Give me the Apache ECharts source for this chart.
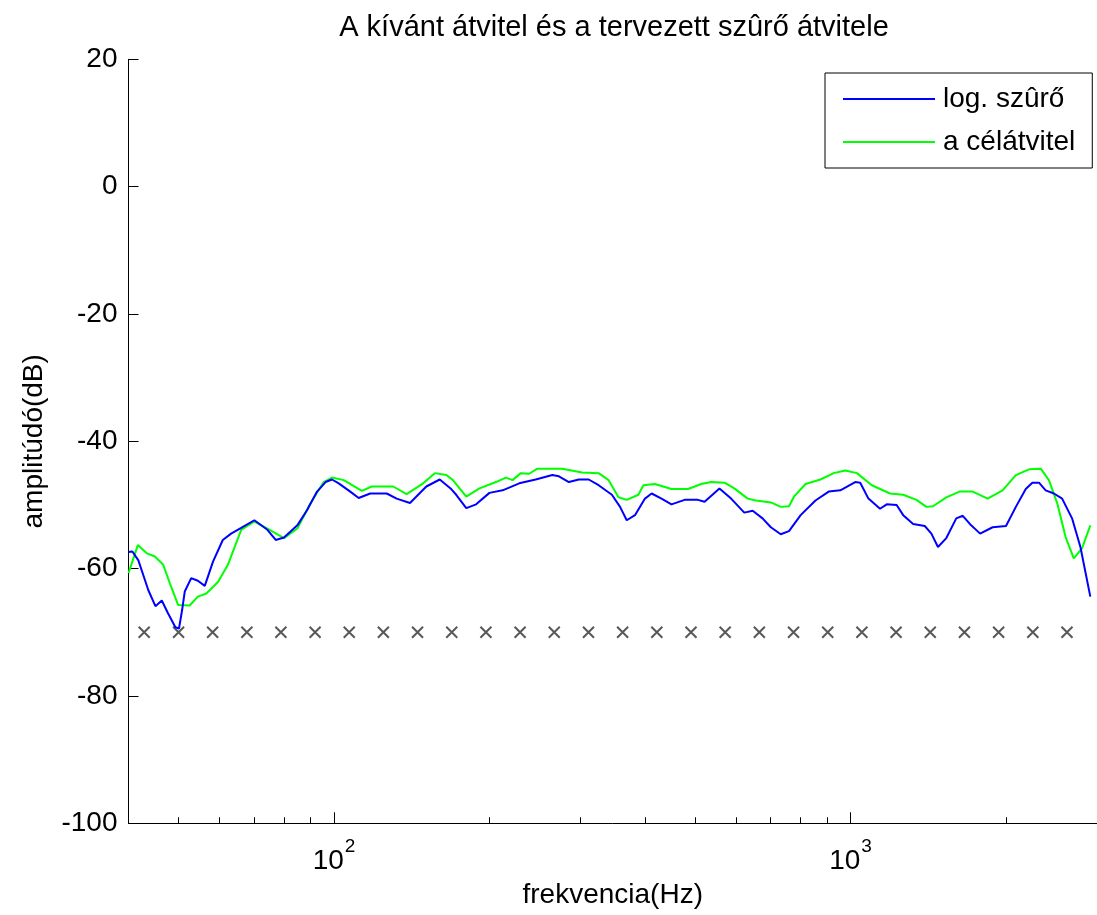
<!DOCTYPE html>
<html>
<head>
<meta charset="utf-8">
<script src="https://cdn.jsdelivr.net/npm/echarts@6/dist/echarts.min.js"></script>
<style>
  html, body { margin: 0; padding: 0; background: #fff; }
  #chart { width: 1097px; height: 915px; }
</style>
</head>
<body>
<div id="chart"></div>
<script>
// Texts
const chartTitle = 'A kívánt átvitel és a tervezett szûrő átvitele';
const xAxisTitle = 'frekvencia(Hz)';
const yAxisTitle = 'amplitúdó(dB)';
const seriesNames = ['log. szûrő', 'a célátvitel'];

// Axis ranges and ticks
const freqMin = 40;
const freqMax = 3000;
const dbMin = -100;
const dbMax = 20;
const dbStep = 20;
const xMajorTicks = [100, 1000];
const xMajorExponents = ['2', '3'];
const xMinorTicks = [50, 60, 70, 80, 90, 200, 300, 400, 500, 600, 700, 800, 900, 2000];

// Designed log filter response
const filterFreq = [40.0, 40.7, 41.8, 43.7, 45.1, 46.4, 47.7, 49.3, 50.1, 50.8, 51.4, 52.9, 54.5, 56.2, 58.3, 60.9,
  63.2, 66.1, 70.1, 74.3, 77.1, 80.0, 84.9, 88.7, 92.7, 96.3, 99.1, 102.1, 107.5, 111.6, 117.5, 126.5, 132.2,
  140.3, 150.9, 160.2, 168.6, 172.4, 180.3, 188.4, 199.9, 212.0, 228.3, 245.7, 264.6, 272.5, 284.9, 297.8,
  311.2, 325.3, 345.1, 357.9, 368.7, 382.5, 399.9, 412.0, 430.5, 450.1, 477.3, 506.5, 521.6, 557.4, 587.1,
  622.7, 646.4, 675.5, 700.9, 732.5, 760.0, 800.5, 855.2, 907.2, 955.4, 1020.9, 1044.0, 1082.9, 1140.5,
  1174.9, 1228.0, 1264.5, 1321.9, 1392.2, 1433.9, 1476.4, 1532.5, 1601.8, 1649.3, 1712.0, 1781.6, 1883.6,
  1999.7, 2089.3, 2183.8, 2248.6, 2316.4, 2386.3, 2475.8, 2568.1, 2684.2, 2786.3, 2912.0];
const filterDb = [-57.4, -57.3, -58.7, -63.4, -65.9, -65.0, -67.0, -69.2, -69.4, -66.5, -63.6, -61.5, -61.9, -62.7, -58.9, -55.5,
  -54.5, -53.6, -52.4, -53.9, -55.5, -55.1, -53.2, -50.8, -47.9, -46.4, -46.0, -46.6, -47.9, -48.9, -48.2, -48.2, -49.0,
  -49.7, -47.1, -46.0, -47.5, -48.4, -50.5, -49.9, -48.1, -47.7, -46.6, -46.0, -45.3, -45.5, -46.4, -46.0,
  -46.0, -46.9, -48.4, -50.3, -52.4, -51.6, -49.0, -48.2, -49.0, -49.9, -49.2, -49.2, -49.5, -47.4, -49.0,
  -51.2, -50.9, -52.1, -53.5, -54.6, -54.1, -51.6, -49.3, -47.9, -47.7, -46.4, -46.5, -49.0, -50.6,
  -49.9, -50.0, -51.6, -53.0, -53.3, -54.5, -56.6, -55.2, -52.1, -51.7, -53.2, -54.5, -53.5,
  -53.3, -50.3, -47.5, -46.5, -46.5, -47.7, -48.2, -49.0, -52.1, -56.6, -64.4];

// Target response
const targetFreq = [40.0, 41.7, 43.4, 45.0, 46.7, 48.1, 49.9, 52.5, 54.5, 56.6, 59.6, 62.3, 66.1, 70.1, 74.3, 80.0,
  84.9, 90.1, 95.5, 99.1, 104.4, 113.2, 118.3, 130.2, 138.2, 148.8, 156.7, 165.0, 169.9, 180.3, 191.2, 205.8,
  215.1, 221.6, 229.9, 238.6, 247.6, 276.5, 302.2, 325.3, 340.1, 355.4, 368.7, 388.3, 397.2, 418.1, 450.1,
  484.6, 514.0, 537.3, 569.9, 595.7, 632.1, 655.7, 700.9, 732.5, 760.0, 777.0, 818.2, 874.3, 927.5, 976.8,
  1028.7, 1099.5, 1192.6, 1264.5, 1341.9, 1402.5, 1444.2, 1532.5, 1625.5, 1723.9, 1842.4, 1969.5, 2089.3,
  2216.2, 2334.1, 2421.1, 2512.1, 2607.4, 2704.7, 2806.3, 2912.0];
const targetDb = [-60.7, -56.3, -57.6, -58.1, -59.4, -62.3, -65.7, -65.8, -64.4, -63.9, -62.1, -59.4, -53.9, -52.6, -53.7, -55.2,
  -53.7, -49.7, -46.4, -45.7, -46.1, -47.8, -47.1, -47.1, -48.3, -46.6, -45.0, -45.3, -46.1, -48.7, -47.4, -46.4,
  -45.7, -46.1, -45.0, -45.1, -44.3, -44.3, -44.9, -45.0, -46.1, -48.8, -49.2, -48.4, -46.9, -46.7, -47.5,
  -47.5, -46.7, -46.4, -46.5, -47.4, -49.0, -49.3, -49.6, -50.3, -50.2, -48.7, -46.7, -46.0, -45.0, -44.6,
  -45.0, -46.9, -48.2, -48.4, -49.2, -50.3, -50.2, -48.8, -47.9, -47.9, -49.0, -47.7, -45.3,
  -44.4, -44.3, -46.1, -49.7, -55.0, -58.4, -56.8, -53.2];

// Band centre markers
const markerFreq = [42.9, 50.0, 58.2, 67.8, 78.9, 91.9, 107.0, 124.6, 145.1, 169.0, 196.8, 229.2, 266.9, 310.9,
  362.0, 421.6, 491.0, 571.8, 665.9, 775.5, 903.2, 1051.8, 1225.0, 1426.6, 1661.4, 1934.9, 2253.4, 2624.3];
const markerDb = -70;

const FONT = '"Liberation Sans", Arial, Helvetica, sans-serif';
const pairs = (xs, ys) => xs.map((x, i) => [x, ys[i]]);

const chart = echarts.init(document.getElementById('chart'), null, { renderer: 'canvas' });

chart.setOption({
  animation: false,
  backgroundColor: '#ffffff',
  textStyle: { fontFamily: FONT, color: '#000' },
  title: {
    text: chartTitle,
    left: 609,
    top: 8,
    textAlign: 'center',
    textStyle: { fontFamily: FONT, fontSize: 29, fontWeight: 'normal', color: '#000' }
  },
  legend: {
    data: seriesNames,
    orient: 'vertical',
    left: 825,
    top: 73,
    padding: [12, 17, 12, 18],
    itemGap: 15,
    itemWidth: 92,
    itemHeight: 2,
    icon: 'rect',
    borderColor: '#000',
    borderWidth: 1,
    backgroundColor: '#fff',
    selectedMode: false,
    textStyle: { fontFamily: FONT, fontSize: 28, color: '#000', padding: [0, 0, 0, 3] }
  },
  grid: { left: 128.5, top: 59.3, width: 975, height: 764 },
  xAxis: [
    {
      type: 'log',
      logBase: 10,
      min: freqMin,
      max: freqMax,
      position: 'bottom',
      name: xAxisTitle,
      nameLocation: 'middle',
      nameGap: 58,
      nameTextStyle: { fontFamily: FONT, fontSize: 28, color: '#000' },
      axisLine: { show: true, onZero: false, lineStyle: { color: '#000', width: 1 } },
      axisTick: { show: true, inside: true, length: 11, customValues: xMajorTicks, lineStyle: { color: '#000', width: 1 } },
      axisLabel: {
        customValues: xMajorTicks,
        margin: 24,
        formatter: v => {
          const i = xMajorTicks.indexOf(Math.round(v));
          return '{b|10}{s|' + (i >= 0 ? xMajorExponents[i] : '') + '}';
        },
        rich: {
          b: { fontFamily: FONT, fontSize: 28, lineHeight: 28, color: '#000', verticalAlign: 'bottom', padding: [14, 0, 0, 0] },
          s: { fontFamily: FONT, fontSize: 19, lineHeight: 19, color: '#000', verticalAlign: 'bottom', padding: [0, 0, 19, 1] }
        }
      },
      splitLine: { show: false },
      minorTick: { show: false }
    },
    {
      type: 'log',
      logBase: 10,
      min: freqMin,
      max: freqMax,
      position: 'bottom',
      axisLine: { show: false, onZero: false },
      axisTick: { show: true, inside: true, length: 6, customValues: xMinorTicks, lineStyle: { color: '#000', width: 1 } },
      axisLabel: { show: false },
      splitLine: { show: false }
    }
  ],
  yAxis: {
    type: 'value',
    min: dbMin,
    max: dbMax,
    interval: dbStep,
    name: yAxisTitle,
    nameLocation: 'middle',
    nameGap: 80,
    nameTextStyle: { fontFamily: FONT, fontSize: 28, color: '#000' },
    axisLine: { show: true, onZero: false, lineStyle: { color: '#000', width: 1 } },
    axisTick: { show: true, inside: true, length: 10, lineStyle: { color: '#000', width: 1 } },
    axisLabel: { fontFamily: FONT, fontSize: 28, color: '#000', margin: 11 },
    splitLine: { show: false }
  },
  series: [
    {
      name: seriesNames[1],
      type: 'line',
      xAxisIndex: 0,
      data: pairs(targetFreq, targetDb),
      color: '#00ff00',
      lineStyle: { color: '#00ff00', width: 2 },
      showSymbol: false,
      symbol: 'none',
      silent: true
    },
    {
      name: seriesNames[0],
      type: 'line',
      xAxisIndex: 0,
      data: pairs(filterFreq, filterDb),
      color: '#0000ff',
      lineStyle: { color: '#0000ff', width: 2 },
      showSymbol: false,
      symbol: 'none',
      silent: true
    },
    {
      name: 'markers',
      type: 'scatter',
      xAxisIndex: 0,
      data: markerFreq.map(f => [f, markerDb]),
      symbol: 'path://M0,0L10,10M10,0L0,10',
      symbolSize: 11,
      itemStyle: { color: 'none', borderColor: '#2e2e2e', borderWidth: 2 },
      silent: true
    }
  ]
});
</script>
</body>
</html>
